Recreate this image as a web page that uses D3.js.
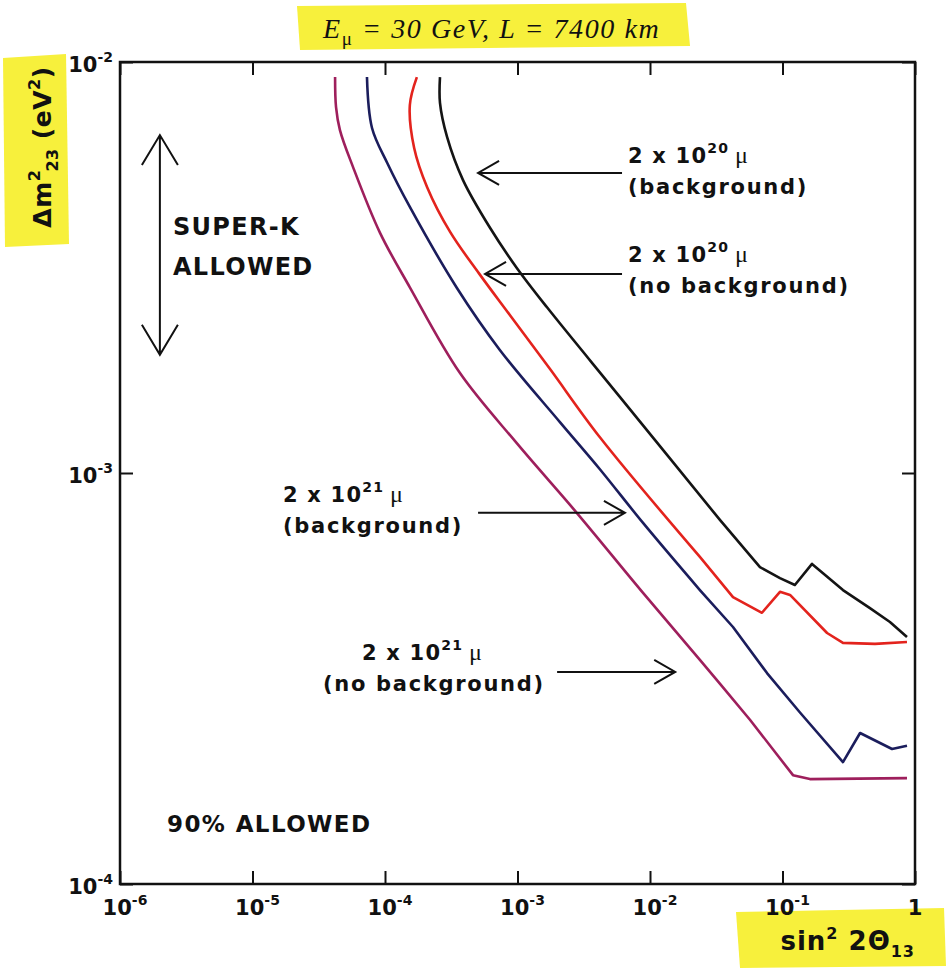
<!DOCTYPE html>
<html>
<head>
<meta charset="utf-8">
<script src="https://cdn.jsdelivr.net/npm/d3@7"></script>
<style>
body { margin: 0; background: #fff; }
text { font-family: "DejaVu Sans", Arial, sans-serif; font-weight: bold; fill: #111; }
.serif { font-family: "Liberation Serif", "Times New Roman", serif; font-weight: normal; }
</style>
</head>
<body>
<div id="chart"></div>
<script>
// curves: [sin^2 2theta13, dm^2_23 (eV^2)]
// the first smoothN[i] points are smoothed, the tail is drawn as straight segments
var bg20 = [[2.60e-4,9.19e-3],[2.60e-4,7.95e-3],[2.94e-4,6.57e-3],[3.88e-4,5.16e-3],[6.20e-4,3.95e-3],
  [9.91e-4,3.15e-3],[1.67e-3,2.53e-3],[5.94e-3,1.53e-3],[3.37e-2,7.69e-4],
  [6.76e-2,5.90e-4],[9.57e-2,5.55e-4],[0.124,5.34e-4],[0.167,6.01e-4],[0.286,5.19e-4],
  [0.457,4.69e-4],[0.647,4.34e-4],[0.870,3.99e-4]];
var nobg20 = [[1.74e-4,9.19e-3],[1.54e-4,7.86e-3],[1.66e-4,6.18e-3],[2.08e-4,4.96e-3],[3.10e-4,3.86e-3],
  [5.12e-4,3.06e-3],[8.78e-4,2.42e-3],[1.76e-3,1.79e-3],[4.20e-3,1.22e-3],[2.38e-2,6.25e-4],
  [4.23e-2,4.99e-4],[7.00e-2,4.57e-4],[9.57e-2,5.14e-4],[0.114,5.05e-4],[0.217,4.08e-4],
  [0.286,3.86e-4],[0.499,3.84e-4],[0.870,3.88e-4]];
var bg21 = [[7.31e-5,9.19e-3],[7.98e-5,6.91e-3],[1.04e-4,5.68e-3],[1.54e-4,4.44e-3],[3.49e-4,2.82e-3],
  [7.38e-4,1.99e-3],[2.09e-3,1.33e-3],[4.20e-3,1.02e-3],[8.86e-3,7.56e-4],[2.38e-2,5.19e-4],
  [4.23e-2,4.22e-4],[7.64e-2,3.26e-4],[0.136,2.61e-4],[0.286,1.98e-4],[0.385,2.33e-4],
  [0.671,2.13e-4],[0.870,2.17e-4]];
var nobg21 = [[4.20e-5,9.19e-3],[4.27e-5,7.77e-3],[4.57e-5,6.83e-3],[5.74e-5,5.55e-3],[9.17e-5,3.84e-3],
  [1.54e-4,2.83e-3],[3.68e-4,1.75e-3],[9.91e-4,1.18e-3],[2.81e-3,7.99e-4],[8.86e-3,5.11e-4],
  [2.38e-2,3.51e-4],[5.68e-2,2.51e-4],[0.120,1.84e-4],[0.161,1.80e-4],[0.870,1.81e-4]];

var seriesNames = ["bg20", "nobg20", "bg21", "nobg21"];
var seriesColors = ["#141414", "#e3231d", "#1b1d5c", "#9e1f5c"];
var smoothN = [9, 10, 10, 12];

var xTicks = [1e-6, 1e-5, 1e-4, 1e-3, 1e-2, 1e-1, 1];
var yTicks = [1e-4, 1e-3, 1e-2];

// arrows pointing at the curves, in data coords
var arrows = [
  {from: [6.15e-3, 5.37e-3], to: [5.04e-4, 5.37e-3]},
  {from: [6.15e-3, 3.05e-3], to: [5.69e-4, 3.05e-3]},
  {from: [5.04e-4, 8.0e-4], to: [6.47e-3, 8.0e-4]},
  {from: [1.99e-3, 3.28e-4], to: [1.55e-2, 3.28e-4]}
];
var superK = {x: 2e-6, lo: 1.94e-3, hi: 6.64e-3};

var labels = [
  {x: 628, y: 163, l1: ["2 x 10", "20"], l2: "(background)", x2: 628},
  {x: 628, y: 262, l1: ["2 x 10", "20"], l2: "(no background)", x2: 628},
  {x: 283, y: 502, l1: ["2 x 10", "21"], l2: "(background)", x2: 283},
  {x: 362, y: 660, l1: ["2 x 10", "21"], l2: "(no background)", x2: 323}
];

var W = 949, H = 977;
var margin = {top: 62, right: 34, bottom: 93, left: 120},
    width = W - margin.left - margin.right,
    height = H - margin.top - margin.bottom;

var svg0 = d3.select("#chart").append("svg")
    .attr("width", W)
    .attr("height", H);

// yellow highlighter marks
var hl = "#f7f03c";
svg0.append("path").attr("fill", hl)
    .attr("d", "M297,6 L686,3 L690,46 L300,50 Z");
svg0.append("path").attr("fill", hl)
    .attr("d", "M3,58 L66,54 L69,244 L5,247 Z");
svg0.append("path").attr("fill", hl)
    .attr("d", "M736,912 L944,908 L946,966 L740,968 Z");

var svg = svg0.append("g")
    .attr("transform", "translate(" + margin.left + "," + margin.top + ")");

var x = d3.scaleLog().domain([1e-6, 1]).range([0, width]);
var y = d3.scaleLog().domain([1e-4, 1e-2]).range([height, 0]);

// ticks on all four sides, pointing in
svg.append("g").attr("transform", "translate(0," + height + ")")
    .call(d3.axisBottom(x).tickValues(xTicks).tickSizeInner(-13).tickSizeOuter(0).tickFormat(""));
svg.append("g")
    .call(d3.axisTop(x).tickValues(xTicks).tickSizeInner(-13).tickSizeOuter(0).tickFormat(""));
svg.append("g")
    .call(d3.axisLeft(y).tickValues(yTicks).tickSizeInner(-13).tickSizeOuter(0).tickFormat(""));
svg.append("g").attr("transform", "translate(" + width + ",0)")
    .call(d3.axisRight(y).tickValues(yTicks).tickSizeInner(-13).tickSizeOuter(0).tickFormat(""));
svg.selectAll(".domain").remove();
svg.selectAll(".tick line").attr("stroke", "#111").attr("stroke-width", 2);

svg.append("rect")
    .attr("width", width).attr("height", height)
    .attr("fill", "none").attr("stroke", "#111").attr("stroke-width", 2.5);

function powLabel(sel, v){
  if (v == 1) { sel.text("1"); return; }
  sel.append("tspan").text("10");
  sel.append("tspan").attr("dy", -10).style("font-size", "14px").text(Math.round(Math.log10(v)));
}

svg.selectAll(".xlab").data(xTicks).enter().append("text")
    .attr("class", "xlab")
    .attr("x", function(d){ return x(d) + (d == 1 ? 0 : 5); })
    .attr("y", height + 31)
    .attr("text-anchor", "middle")
    .style("font-size", "21px")
    .each(function(d){ powLabel(d3.select(this), d); });

svg.selectAll(".ylab").data(yTicks).enter().append("text")
    .attr("class", "ylab")
    .attr("x", -7)
    .attr("y", function(d){ return y(d) + 10; })
    .attr("text-anchor", "end")
    .style("font-size", "21px")
    .each(function(d){ powLabel(d3.select(this), d); });

// curves
var smoothLine = d3.line()
    .curve(d3.curveCatmullRom.alpha(0.5))
    .x(function(d){ return x(d[0]); })
    .y(function(d){ return y(d[1]); });
var sharpLine = d3.line()
    .x(function(d){ return x(d[0]); })
    .y(function(d){ return y(d[1]); });

[bg20, nobg20, bg21, nobg21].forEach(function(s, i){
  var k = smoothN[i];
  var d = smoothLine(s.slice(0, k)) + sharpLine(s.slice(k - 1)).replace(/^M/, "L");
  svg.append("path")
      .attr("class", "curve " + seriesNames[i])
      .attr("fill", "none")
      .attr("stroke", seriesColors[i])
      .attr("stroke-width", 2.6)
      .attr("stroke-linejoin", "round")
      .attr("d", d);
});

// open-headed arrows
function head(px, py, dx, dy, len, half){
  var n = Math.sqrt(dx*dx + dy*dy), ux = dx/n, uy = dy/n;
  var bx = px - ux*len, by = py - uy*len;
  return "M" + (bx - uy*half) + "," + (by + ux*half) + "L" + px + "," + py +
         "L" + (bx + uy*half) + "," + (by - ux*half);
}

arrows.forEach(function(a){
  var x1 = x(a.from[0]), y1 = y(a.from[1]), x2 = x(a.to[0]), y2 = y(a.to[1]);
  svg.append("path")
      .attr("fill", "none").attr("stroke", "#111").attr("stroke-width", 2)
      .attr("d", "M" + x1 + "," + y1 + "L" + x2 + "," + y2 + head(x2, y2, x2 - x1, y2 - y1, 21, 12));
});

var kx = x(superK.x), ky1 = y(superK.hi), ky2 = y(superK.lo);
svg.append("path")
    .attr("fill", "none").attr("stroke", "#111").attr("stroke-width", 2)
    .attr("d", "M" + kx + "," + ky1 + "L" + kx + "," + ky2 +
          head(kx, ky1, 0, -1, 30, 18) + head(kx, ky2, 0, 1, 30, 18));

// text annotations (page coords)
var ann = svg0.append("g");
labels.forEach(function(d){
  var t1 = ann.append("text").attr("x", d.x).attr("y", d.y)
      .style("font-size", "21px").style("letter-spacing", "1.2px");
  t1.append("tspan").text(d.l1[0]);
  t1.append("tspan").attr("dy", -10).style("font-size", "14px").text(d.l1[1]);
  t1.append("tspan").attr("dy", 10).attr("dx", 6).attr("class", "serif")
      .style("font-size", "24px").text("\u03bc");
  ann.append("text").attr("x", d.x2).attr("y", d.y + 31)
      .style("font-size", "21px").style("letter-spacing", "1.7px").text(d.l2);
});

ann.append("text").attr("x", 173).attr("y", 235)
    .style("font-size", "24px").style("letter-spacing", "1.3px").text("SUPER-K");
ann.append("text").attr("x", 173).attr("y", 275)
    .style("font-size", "24px").style("letter-spacing", "1.3px").text("ALLOWED");
ann.append("text").attr("x", 167).attr("y", 832)
    .style("font-size", "23px").style("letter-spacing", "1.4px").text("90% ALLOWED");

// title
var title = svg0.append("text")
    .attr("class", "serif")
    .attr("x", 323).attr("y", 38)
    .style("font-style", "italic")
    .style("font-size", "28px")
    .style("letter-spacing", "1.6px");
title.append("tspan").text("E");
title.append("tspan").attr("dy", 7).style("font-size", "19px").style("font-style", "normal").text("\u03bc");
title.append("tspan").attr("dy", -7).text(" = 30 GeV, L = 7400 km");

// axis titles
var yt = svg0.append("text")
    .attr("transform", "translate(51,147) rotate(-90)")
    .attr("text-anchor", "middle")
    .style("font-size", "25px")
    .style("letter-spacing", "0.5px");
yt.append("tspan").text("\u0394m");
yt.append("tspan").attr("dy", -11).style("font-size", "16px").text("2");
yt.append("tspan").attr("dy", 18).attr("dx", -2).style("font-size", "16px").text("23");
yt.append("tspan").attr("dy", -7).text(" (eV");
yt.append("tspan").attr("dy", -11).style("font-size", "16px").text("2");
yt.append("tspan").attr("dy", 11).text(")");

var xt = svg0.append("text")
    .attr("x", 915).attr("y", 950)
    .attr("text-anchor", "end")
    .style("font-size", "26px")
    .style("letter-spacing", "1px");
xt.append("tspan").text("sin");
xt.append("tspan").attr("dy", -11).style("font-size", "16px").text("2");
xt.append("tspan").attr("dy", 11).text(" 2\u0398");
xt.append("tspan").attr("dy", 7).style("font-size", "16px").text("13");
</script>
</body>
</html>
